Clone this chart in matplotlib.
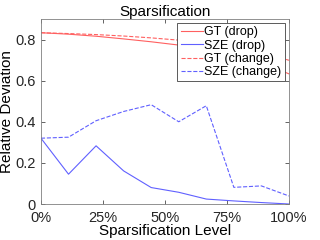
import numpy as np
import matplotlib
matplotlib.use("Agg")
import matplotlib.pyplot as plt
from matplotlib.ticker import FuncFormatter

plt.rcParams["font.family"] = ["Liberation Sans", "DejaVu Sans"]

levels = np.linspace(0, 1, 10)
gt_drop = [0.833, 0.826, 0.816, 0.803, 0.789, 0.773, 0.752, 0.725, 0.688, 0.633]
sze_drop = [0.32, 0.145, 0.283, 0.161, 0.08, 0.057, 0.024, 0.015, 0.007, 0.0]
gt_change = [0.833, 0.829, 0.824, 0.817, 0.808, 0.797, 0.783, 0.765, 0.738, 0.699]
sze_change = [0.32, 0.325, 0.405, 0.45, 0.483, 0.40, 0.478, 0.081, 0.088, 0.039]

RED = "#ff6060"
BLUE = "#6060ff"

fig = plt.figure(figsize=(3.2, 2.4), dpi=100)
ax = fig.add_axes([0.128, 0.15, 0.775, 0.771])

ax.plot(levels, gt_drop, color=RED, lw=0.8, label="GT (drop)")
ax.plot(levels, sze_drop, color=BLUE, lw=0.8, label="SZE (drop)")
ax.plot(levels, gt_change, color=RED, lw=0.8, ls="--", label="GT (change)")
ax.plot(levels, sze_change, color=BLUE, lw=0.8, ls="--", label="SZE (change)")

ax.set_xlim(0, 1)
ax.set_ylim(0, 0.9)
ax.set_xticks([0, 0.25, 0.5, 0.75, 1.0])
ax.xaxis.set_major_formatter(FuncFormatter(lambda v, p: f"{v*100:.0f}%"))
ax.set_yticks([0, 0.2, 0.4, 0.6, 0.8])
ax.yaxis.set_major_formatter(FuncFormatter(lambda v, p: "0" if v == 0 else f"{v:.1f}"))
ax.tick_params(direction="in", top=True, right=True, length=3, width=0.5,
               colors="#262626", labelsize=10.5)
ax.tick_params(axis="x", pad=5)
ax.tick_params(axis="y", pad=4)
for s in ax.spines.values():
    s.set_color("#808080")
    s.set_linewidth(0.6)

ax.set_xlabel("Sparsification Level", fontsize=11, labelpad=-1)
ax.set_ylabel("Relative Deviation", fontsize=11, labelpad=1)
ax.set_title("Sparsification", fontsize=11, pad=2)

leg = ax.legend(loc="upper right", fontsize=9, handlelength=1.8, handletextpad=0.1,
                labelspacing=0.1, borderpad=0.25, borderaxespad=0.35, fancybox=False,
                framealpha=1)
leg.get_frame().set_edgecolor("#404040")
leg.get_frame().set_linewidth(0.6)

fig.savefig("out.png", dpi=100)
